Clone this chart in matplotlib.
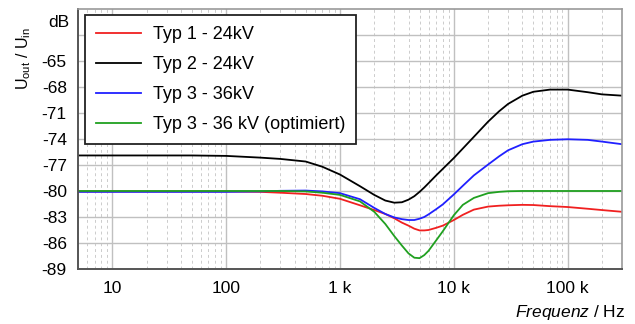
import numpy as np
import matplotlib
matplotlib.use("Agg")
import matplotlib.pyplot as plt
import matplotlib.transforms as mtransforms

plt.rcParams['font.family'] = ['Liberation Sans', 'DejaVu Sans']
plt.rcParams['mathtext.fontset'] = 'custom'
plt.rcParams['mathtext.rm'] = 'Liberation Sans'
plt.rcParams['mathtext.it'] = 'Liberation Sans:italic'

# frequency grid (Hz) shared by all series
freq = [5, 10, 20, 50, 100, 200, 300, 500, 700, 1000, 1500, 2000, 2500, 3000,
        3500, 4000, 4500, 5000, 5500, 6000, 7000, 8000, 10000, 12000, 15000,
        20000, 25000, 30000, 40000, 50000, 70000, 100000, 150000, 200000, 300000]

# Typ 1 - 24kV (red)
typ1 = [-80.05, -80.05, -80.05, -80.05, -80.05, -80.1, -80.2, -80.35, -80.55, -80.9,
        -81.65, -82.2, -82.65, -83.15, -83.65, -84.0, -84.35, -84.55, -84.55, -84.5,
        -84.25, -84.0, -83.35, -82.75, -82.15, -81.8, -81.7, -81.65, -81.6, -81.62,
        -81.75, -81.85, -82.05, -82.2, -82.4]
# Typ 2 - 24kV (black)
typ2 = [-75.9, -75.9, -75.9, -75.9, -75.95, -76.15, -76.3, -76.6, -77.2, -78.1,
        -79.45, -80.45, -81.1, -81.35, -81.3, -81.0, -80.6, -80.1, -79.6, -79.1,
        -78.2, -77.45, -76.2, -75.1, -73.75, -72.0, -70.8, -69.95, -69.0, -68.55,
        -68.3, -68.3, -68.6, -68.85, -69.0]
# Typ 3 - 36kV (blue)
typ3 = [-80.1, -80.1, -80.1, -80.1, -80.1, -80.05, -79.98, -79.95, -80.05, -80.25,
        -80.95, -81.95, -82.65, -83.05, -83.25, -83.35, -83.35, -83.2, -83.0, -82.7,
        -82.1, -81.55, -80.4, -79.4, -78.2, -76.95, -76.0, -75.3, -74.6, -74.3,
        -74.1, -74.03, -74.1, -74.3, -74.6]
# Typ 3 - 36 kV (optimiert) (green)
typ3_opt = [-80.0, -80.0, -80.0, -80.0, -80.0, -80.0, -80.0, -80.05, -80.2, -80.45,
            -81.2, -82.4, -83.8, -85.2, -86.3, -87.2, -87.7, -87.75, -87.4, -86.9,
            -85.7, -84.65, -82.8, -81.6, -80.8, -80.25, -80.1, -80.03, -80.0, -80.0,
            -80.0, -80.0, -80.0, -80.0, -80.0]

labels = ['Typ 1 - 24kV', 'Typ 2 - 24kV', 'Typ 3 - 36kV', 'Typ 3 - 36 kV (optimiert)']
colors = ['#f02020', '#000000', '#2020ff', '#20a020']

xticks = [10, 100, 1000, 10000, 100000]
xticklabels = ['10', '100', '1 k', '10 k', '100 k']
yticks = [-89, -86, -83, -80, -77, -74, -71, -68, -65, -62]

fs = 12.5

fig = plt.figure(figsize=(6.35, 3.24), dpi=100)
ax = fig.add_axes([0.1228, 0.1698, 0.8567, 0.8024])

for ys, c, lab in zip([typ1, typ2, typ3, typ3_opt], colors, labels):
    ax.plot(freq, ys, color=c, lw=1.3, label=lab)

ax.set_xscale('log')
ax.set_xlim(5, 300000)
ax.set_ylim(-89, -59)
ax.set_xticks(xticks)
ax.set_xticklabels(xticklabels)
ax.set_yticks(yticks)
ax.set_yticklabels([str(v) for v in yticks[:-1]] + [''])
ax.tick_params(axis='both', which='both', length=0, labelsize=fs)
ax.tick_params(axis='x', pad=9)
ax.tick_params(axis='y', pad=8)

ax.grid(True, which='major', color='#c0c0c0', lw=1.0, ls='-')
ax.grid(True, which='minor', axis='x', color='#cccccc', lw=0.7, ls=(0, (3, 3)))
ax.set_axisbelow(True)

for s in ['left', 'bottom']:
    ax.spines[s].set_color('#555555')
    ax.spines[s].set_linewidth(1.4)
for s in ['top', 'right']:
    ax.spines[s].set_color('#999999')
    ax.spines[s].set_linewidth(1.2)

# unit label in place of the top tick
trans = mtransforms.blended_transform_factory(ax.transAxes, ax.transData)
ax.text(-0.015, -60.5, 'dB', transform=trans, ha='right', va='center', fontsize=fs)

ax.set_ylabel(r'U$_{\mathregular{out}}$ / U$_{\mathregular{in}}$', fontsize=11.5)
ax.yaxis.set_label_coords(-0.083, 0.81)

fig.text(625 / 635, 1 - 313 / 324, r'$\mathit{Frequenz}$ / Hz', ha='right', va='center', fontsize=fs)

leg = ax.legend(loc='upper left', bbox_to_anchor=(0.013, 0.977), fontsize=13,
                fancybox=False, framealpha=1, edgecolor='#222222',
                handlelength=2.5, handletextpad=0.65, labelspacing=0.72,
                borderpad=0.6, borderaxespad=0)
leg.get_frame().set_linewidth(1.3)

fig.savefig('out.png', dpi=100)
